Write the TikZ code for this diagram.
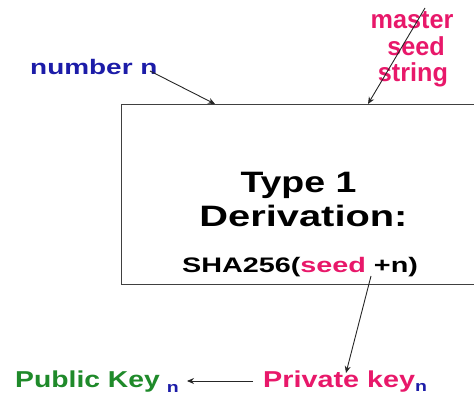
\documentclass[tikz,border=0pt]{standalone}
\usepackage{fontspec}
\setmainfont{Liberation Sans}
\usetikzlibrary{arrows.meta}
\definecolor{nblue}{HTML}{1C1CA8}
\definecolor{npink}{HTML}{E8186A}
\definecolor{ngreen}{HTML}{1F8A2A}
\newcommand{\wid}[2]{\scalebox{#1}[1]{#2}}
\begin{document}
\begin{tikzpicture}[x=1pt,y=-1pt,
  lbl/.style={inner sep=0pt, font=\bfseries},
  conn/.style={draw=black!85, line width=0.9pt, -{Stealth[length=7pt,width=6pt]}},
  boxst/.style={draw=black!75, line width=1pt, inner sep=0pt}]
\useasboundingbox (0,0) rectangle (474,395);
\clip (0,0) rectangle (474,395);
\node[boxst, minimum width=369pt, minimum height=180pt, anchor=north west] (box) at (121,104) {};
% labels
\node[lbl, text=nblue, anchor=base west] (num) at (30,75) {\fontsize{21}{25}\selectfont\wid{1.33}{number n}};
\node[lbl, text=npink, anchor=base] (ms1) at (412,29) {\fontsize{26}{27}\selectfont\wid{0.97}{master}};
\node[lbl, text=npink, anchor=base] (ms2) at (416,56) {\fontsize{26}{27}\selectfont\wid{0.97}{seed}};
\node[lbl, text=npink, anchor=base] (ms3) at (413,82) {\fontsize{26}{27}\selectfont\wid{0.97}{string}};
\node[lbl, anchor=base] (t1) at (298.5,193) {\fontsize{29.5}{34}\selectfont\wid{1.27}{Type 1}};
\node[lbl, anchor=base] (t2) at (303.5,227) {\fontsize{29.5}{34}\selectfont\wid{1.35}{Derivation:}};
\node[lbl, anchor=base] (sha) at (300,273) {\fontsize{21}{25}\selectfont\wid{1.37}{SHA256({\color{npink}seed} +n)}};
\node[lbl, text=ngreen, anchor=base west] (pub) at (15,388) {\fontsize{23}{27}\selectfont\wid{1.23}{Public Key}\hspace{7pt}\raisebox{-5pt}{\fontsize{15}{15}\selectfont\color{nblue}\wid{1.3}{n}}};
\node[lbl, text=npink, anchor=base west] (priv) at (263,388) {\fontsize{23}{27}\selectfont\wid{1.25}{Private key}\raisebox{-4pt}{\fontsize{15}{15}\selectfont\color{nblue}\wid{1.3}{n}}};
% connector ends
\coordinate (n0) at (150,71);
\coordinate (nend) at (215,104);
\coordinate (m0) at (425,8);
\coordinate (mend) at (368,104);
\coordinate (p0) at (371,276);
\coordinate (pend) at (346,373);
\coordinate (q0) at (253,381);
\coordinate (qend) at (187,381);
\draw[conn] (n0) -- (nend);
\draw[conn] (m0) -- (mend);
\draw[conn] (p0) -- (pend);
\draw[conn] (q0) -- (qend);
\end{tikzpicture}
\end{document}
